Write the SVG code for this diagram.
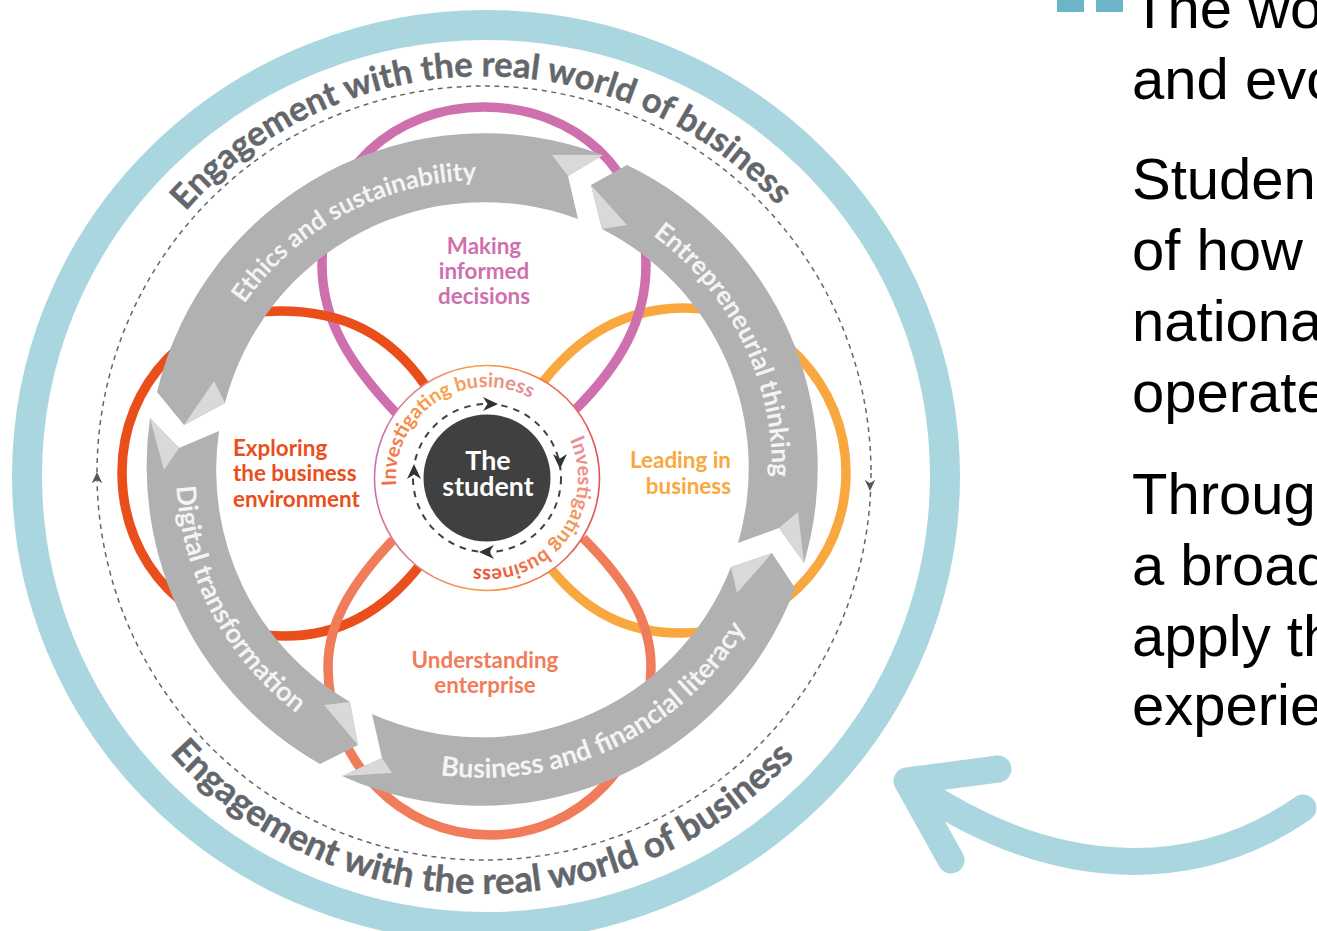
<svg xmlns="http://www.w3.org/2000/svg" width="1317" height="931" viewBox="0 0 1317 931">
<style>
.lato{font-family:"Lato","Liberation Sans",sans-serif;font-weight:700}
.lab{font-size:22.4px}
.rib{font-size:27px;fill:#f4f4f4}
.eng{fill:#63676c;stroke:#63676c;stroke-width:.4}
.body{font-family:"Liberation Sans",Arial,sans-serif;font-size:58px;fill:#000}
.loop{fill:none;stroke-width:9.5}
.gray{fill:#b1b1b1}
.hl{fill:#d9d9d9}
.dash{fill:none;stroke:#666;stroke-width:1.5;stroke-dasharray:5 4.5}
.dash2{fill:none;stroke:#404040;stroke-width:2;stroke-dasharray:6.5 6}
.teal{fill:none;stroke:#aad6df;stroke-linecap:round;stroke-linejoin:round;stroke-width:27}
</style>
<defs>
<path id="tipA" d="M8,0 L-7,-7 L-2.5,0 L-7,7Z"/>
<linearGradient id="ringG" gradientUnits="userSpaceOnUse" x1="375" y1="478" x2="600" y2="478"><stop offset="0" stop-color="#cf70ae"/><stop offset=".45" stop-color="#f9a040"/><stop offset="1" stop-color="#e4505a"/></linearGradient>
<linearGradient id="t1G" gradientUnits="userSpaceOnUse" x1="380" y1="470" x2="535" y2="390"><stop offset="0" stop-color="#ee6f4b"/><stop offset=".5" stop-color="#f9a548"/><stop offset="1" stop-color="#e58a9c"/></linearGradient>
<linearGradient id="t2G" gradientUnits="userSpaceOnUse" x1="578" y1="437" x2="480" y2="580"><stop offset="0" stop-color="#e88a9c"/><stop offset=".5" stop-color="#f59a55"/><stop offset="1" stop-color="#e8503a"/></linearGradient>
<path id="pTop" d="M87,473 A397,397 0 0 1 881,473"/>
<path id="pBot" d="M63,473 A421,421 0 0 0 905,473"/>
<path id="pEth" d="M192,470 A290,290 0 0 1 772,470"/>
<path id="pEnt" d="M482,180 A290,290 0 0 1 482,760"/>
<path id="pDig" d="M176,470 A306,306 0 0 0 482,776"/>
<path id="pBus" d="M174,470 A308,308 0 0 0 790,470"/>
<path id="pIn1" d="M408.2,523.5 A91,91 0 1 1 578,478"/>
<path id="pIn2" d="M487,387 A91,91 0 0 1 487,569 A91,91 0 0 1 396,478"/>
</defs>

<g id="outer-ring"><ellipse cx="486" cy="476" rx="459" ry="451" fill="none" stroke="#aad6df" stroke-width="30"/></g>

<g id="engagement-top"><text class="lato eng" font-size="34.6"><textPath href="#pTop" startOffset="49.7%" text-anchor="middle">Engagement with the real world of business</textPath></text></g>
<g id="engagement-bottom"><text class="lato eng" font-size="36.5"><textPath href="#pBot" startOffset="49.8%" text-anchor="middle">Engagement with the real world of business</textPath></text></g>

<g id="connectors">
<circle class="dash" cx="484" cy="473" r="387"/>
<use href="#tipA" transform="translate(97,478) rotate(-90) scale(.75)" fill="#555"/>
<use href="#tipA" transform="translate(870,485) rotate(90) scale(.75)" fill="#555"/>
<path class="teal" d="M1303,808 C1200,880 1060,885 915,787"/>
<path class="teal" d="M998,769 L907,781 L951,860"/>
</g>

<g id="loop-leading"><path class="loop" stroke="#f9a840" d="M543,382 C580,335 625,308 685,308 C775,308 846,385 846,472 C846,565 775,633 680,633 C625,633 585,610 552,570"/></g>
<g id="loop-making"><path class="loop" stroke="#cf70ae" d="M398,415 C350,365 322,320 322,265 C322,170 395,107 484,107 C575,107 646,170 646,265 C646,320 620,365 575,410"/></g>
<g id="loop-exploring"><path class="loop" stroke="#e94e1b" d="M425,385 C390,335 345,311 280,311 C190,311 122,385 122,472 C122,565 190,636 285,636 C340,636 385,610 420,565"/></g>
<g id="loop-understanding"><path class="loop" stroke="#f07c5a" d="M393,540 C355,580 328,620 328,667 C328,760 400,835 490,835 C580,835 651,760 651,667 C651,620 625,580 583,538"/></g>

<g id="arrow-ethics">
<path class="gray" d="M157,392 A336,336 0 0 1 603,155 L568,176 L578,219 A268,268 0 0 0 225,403 L184,425Z"/>
<polygon class="hl" points="552,155 568,176 603,155"/><polygon class="hl" points="214,381 225,403 184,425"/>
<text class="lato rib" style="font-size:25.6px"><textPath href="#pEth" startOffset="34.4%" text-anchor="middle">Ethics and sustainability</textPath></text>
</g>
<g id="arrow-entrepreneurial">
<path class="gray" d="M627,165 A336,336 0 0 1 804,563 L779,528 L738,543 A268,268 0 0 0 602,229 L591,185Z"/>
<polygon class="hl" points="591,185 602,229 627,225"/><polygon class="hl" points="798,512 779,528 804,563"/>
<text class="lato rib" style="font-size:26px"><textPath href="#pEnt" startOffset="35.4%" text-anchor="middle">Entrepreneurial thinking</textPath></text>
</g>
<g id="arrow-business">
<path class="gray" d="M795,588 A336,336 0 0 1 342,776 L382,758 L372,714 A268,268 0 0 0 731,567 L772,553Z"/>
<polygon class="hl" points="342,776 382,758 392,773"/><polygon class="hl" points="731,567 772,553 737,593"/>
<text class="lato rib"><textPath href="#pBus" startOffset="64.2%" text-anchor="middle">Business and financial literacy</textPath></text>
</g>
<g id="arrow-digital">
<path class="gray" d="M150,418 L179,448 L219,431 A268,268 0 0 0 350,702 L358,745 L320,764 A343,343 0 0 1 150,418Z"/>
<polygon class="hl" points="150,418 179,448 164,470"/><polygon class="hl" points="324,705 350,702 358,745"/>
<text class="lato rib"><textPath href="#pDig" startOffset="31%" text-anchor="middle">Digital transformation</textPath></text>
</g>

<g id="label-making" class="lato lab" fill="#cf70ae" text-anchor="middle"><text x="484" y="254">Making</text><text x="484" y="279">informed</text><text x="484" y="304">decisions</text></g>
<g id="label-exploring" class="lato lab" fill="#e94e1b"><text x="233" y="456">Exploring</text><text x="233" y="481">the business</text><text x="233" y="507">environment</text></g>
<g id="label-leading" class="lato lab" fill="#f9a840" text-anchor="end"><text x="731" y="468">Leading in</text><text x="731" y="494">business</text></g>
<g id="label-understanding" class="lato lab" fill="#f07c5a" text-anchor="middle"><text x="485" y="668">Understanding</text><text x="485" y="693">enterprise</text></g>

<g id="student">
<circle cx="487" cy="478" r="112.5" fill="#fff" stroke="url(#ringG)" stroke-width="1.6"/>
<circle class="dash2" cx="487" cy="478" r="74"/>
<circle cx="487" cy="478" r="63.5" fill="#404040"/>
<use href="#tipA" transform="translate(490,404)" fill="#333"/>
<use href="#tipA" transform="translate(560,461) rotate(90)" fill="#333"/>
<use href="#tipA" transform="translate(487,552) rotate(180)" fill="#333"/>
<use href="#tipA" transform="translate(414,472) rotate(-90)" fill="#333"/>
<text class="lato" font-size="20" fill="url(#t1G)"><textPath href="#pIn1" startOffset="41.4%" text-anchor="middle">Investigating business</textPath></text>
<text class="lato" font-size="20" fill="url(#t2G)"><textPath href="#pIn2" startOffset="47%" text-anchor="middle">Investigating business</textPath></text>
<text class="lato" font-size="26.8" fill="#fff" text-anchor="middle"><tspan x="488" y="470">The</tspan><tspan x="488" y="496">student</tspan></text>
</g>

<g id="side-text" class="body">
<rect x="1057" y="0" width="27" height="12" fill="#6cb4c8"/><rect x="1096" y="0" width="27" height="12" fill="#6cb4c8"/>
<text x="1132" y="28">The wo</text>
<text x="1132" y="99">and evo</text>
<text x="1132" y="199">Studen</text>
<text x="1132" y="270">of how</text>
<text x="1132" y="341">nationa</text>
<text x="1132" y="412">operate</text>
<text x="1132" y="514">Throug</text>
<text x="1132" y="585">a broad</text>
<text x="1132" y="656">apply th</text>
<text x="1132" y="725">experie</text>
</g>
</svg>
